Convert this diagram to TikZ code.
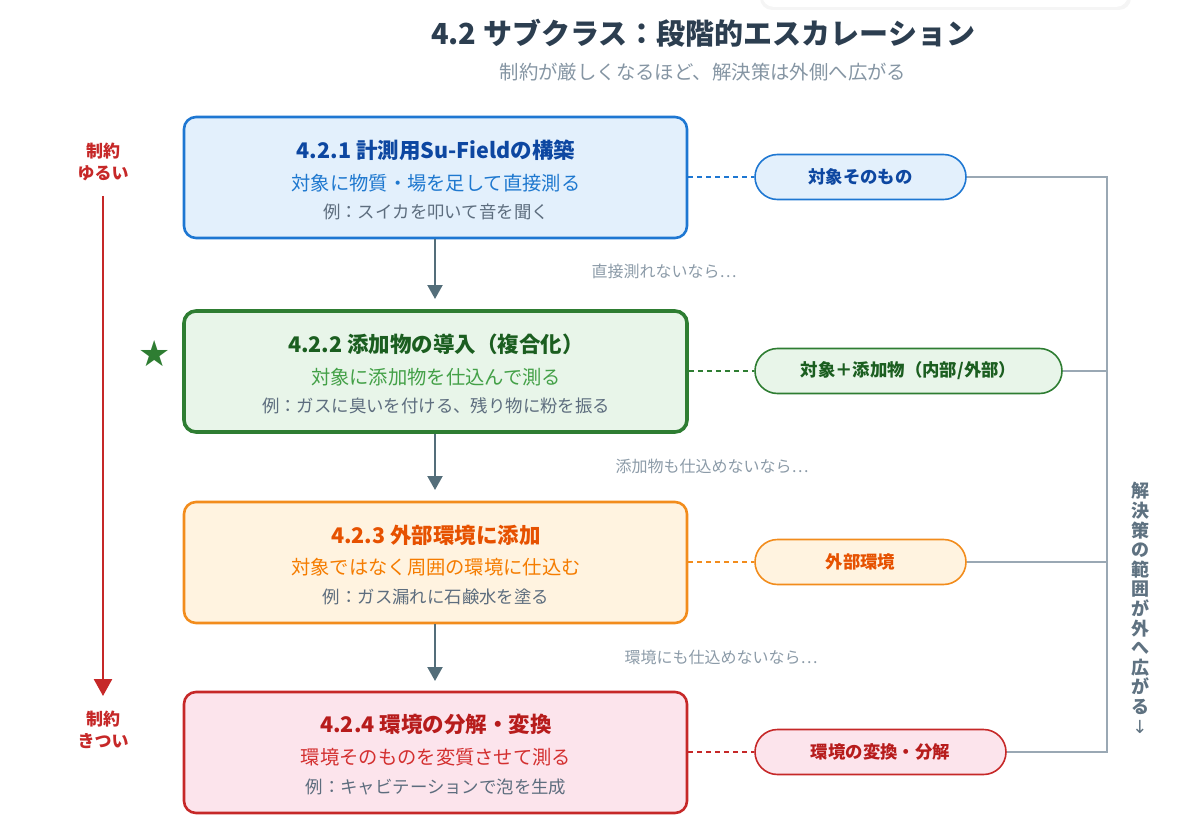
\documentclass[tikz,border=0pt]{standalone}
\usepackage{fontspec}
\setmainfont{Noto Sans CJK JP}
\newfontfamily\symfont{DejaVu Sans}
\usetikzlibrary{arrows.meta}
\definecolor{blueB}{HTML}{1E77D2}
\definecolor{blueF}{HTML}{E3F0FC}
\definecolor{blueT}{HTML}{0D47A1}
\definecolor{blueS}{HTML}{1E78CF}
\definecolor{greenB}{HTML}{2E7D32}
\definecolor{greenF}{HTML}{E8F5E9}
\definecolor{greenT}{HTML}{1B5E20}
\definecolor{greenS}{HTML}{43A047}
\definecolor{orangeB}{HTML}{F28C1C}
\definecolor{orangeF}{HTML}{FFF3E0}
\definecolor{orangeT}{HTML}{E65100}
\definecolor{orangeS}{HTML}{F57C00}
\definecolor{redB}{HTML}{C62828}
\definecolor{redF}{HTML}{FCE4EC}
\definecolor{redT}{HTML}{B71C1C}
\definecolor{redS}{HTML}{D32F2F}
\definecolor{titleC}{HTML}{2C3E50}
\definecolor{subC}{HTML}{8595A3}
\definecolor{exC}{HTML}{5D6D7E}
\definecolor{hintC}{HTML}{8C9BA8}
\definecolor{arrC}{HTML}{546E7A}
\definecolor{brC}{HTML}{9AA8B4}
\definecolor{vtC}{HTML}{5F7281}
\tikzset{
  stagebox/.style={draw, rounded corners=12pt, minimum width=503pt, minimum height=121pt, inner sep=0pt},
  pill/.style={draw, line width=1.6pt, rounded corners=22.5pt, minimum height=45pt, inner sep=0pt, font=\fontsize{17.4}{20}\selectfont\bfseries},
  ttl/.style={font=\fontsize{21.5}{24}\selectfont\bfseries},
  sub/.style={font=\fontsize{19.3}{22}\selectfont},
  ex/.style={font=\fontsize{17.4}{20}\selectfont, text=exC},
  hint/.style={font=\fontsize{16}{18}\selectfont, text=hintC, anchor=west},
  flow/.style={draw=arrC, line width=2.2pt, -{Triangle[width=15pt,length=14pt]}},
  link/.style={dashed, dash pattern=on 5pt off 4pt, line width=1.4pt},
  brk/.style={draw=brC, line width=1.8pt},
  side/.style={font=\fontsize{17}{22}\selectfont\bfseries, text=redB, align=center}
}
\begin{document}
\begin{tikzpicture}[x=1pt,y=-1pt]
\useasboundingbox (0,0) rectangle (1200,832);
% faint panel at the top right
\fill[black!4, rounded corners=12pt] (760,-30) rectangle (1131,10);
\fill[white, rounded corners=12pt] (762,-30) rectangle (1128,7);
% title
\node[font=\fontsize{29}{32}\selectfont\bfseries, text=titleC] (title) at (703,33) {4.2 サブクラス：段階的エスカレーション};
\node[font=\fontsize{19.4}{22}\selectfont, text=subC] (subtitle) at (703,72) {制約が厳しくなるほど、解決策は外側へ広がる};
% stage boxes
\node[stagebox, draw=blueB, fill=blueF, line width=2.6pt] (b1) at (435.5,177.5) {};
\node[stagebox, draw=greenB, fill=greenF, line width=3.6pt] (b2) at (435.5,371.5) {};
\node[stagebox, draw=orangeB, fill=orangeF, line width=2.6pt] (b3) at (435.5,562.5) {};
\node[stagebox, draw=redB, fill=redF, line width=2.6pt] (b4) at (435.5,752.5) {};
% box texts
\node[ttl, text=blueT] (t1) at (436,150) {4.2.1 計測用Su-Fieldの構築};
\node[sub, text=blueS] (s1) at (436,183) {対象に物質・場を足して直接測る};
\node[ex] (e1) at (436,212) {例：スイカを叩いて音を聞く};
\node[ttl, text=greenT] (t2) at (436,344) {4.2.2 添加物の導入（複合化）};
\node[sub, text=greenS] (s2) at (436,377) {対象に添加物を仕込んで測る};
\node[ex] (e2) at (436,406) {例：ガスに臭いを付ける、残り物に粉を振る};
\node[ttl, text=orangeT] (t3) at (436,535) {4.2.3 外部環境に添加};
\node[sub, text=orangeS] (s3) at (436,567) {対象ではなく周囲の環境に仕込む};
\node[ex] (e3) at (436,597) {例：ガス漏れに石鹸水を塗る};
\node[ttl, text=redT] (t4) at (436,724) {4.2.4 環境の分解・変換};
\node[sub, text=redS] (s4) at (436,757) {環境そのものを変質させて測る};
\node[ex] (e4) at (436,787) {例：キャビテーションで泡を生成};
% star
\node[font=\symfont\fontsize{36}{36}\selectfont, text=greenB] (star) at (155,354) {★};
% flow arrows
\coordinate (a1) at (435,299);
\coordinate (a2) at (435,490);
\coordinate (a3) at (435,681);
\draw[flow] (b1.south -| a1) -- (a1);
\draw[flow] (b2.south -| a2) -- (a2);
\draw[flow] (b3.south -| a3) -- (a3);
\node[hint] (h1) at (588,271) {直接測れないなら…};
\node[hint] (h2) at (612,466) {添加物も仕込めないなら…};
\node[hint] (h3) at (621,657) {環境にも仕込めないなら…};
% pills
\node[pill, draw=blueB, fill=blueF, text=blueT, minimum width=211pt] (p1) at (860.5,177) {対象そのもの};
\node[pill, draw=greenB, fill=greenF, text=greenT, minimum width=307pt] (p2) at (908.5,371) {対象＋添加物（内部/外部）};
\node[pill, draw=orangeB, fill=orangeF, text=orangeT, minimum width=211pt] (p3) at (860.5,562) {外部環境};
\node[pill, draw=redB, fill=redF, text=redT, minimum width=251pt] (p4) at (880.5,752) {環境の変換・分解};
% dashed links
\draw[link, draw=blueB] (b1.east |- p1) -- (p1.west);
\draw[link, draw=greenB] (b2.east |- p2) -- (p2.west);
\draw[link, draw=orangeB] (b3.east |- p3) -- (p3.west);
\draw[link, draw=redB] (b4.east |- p4) -- (p4.west);
% bracket
\coordinate (k1) at (1107,177);
\coordinate (k2) at (1107,371);
\coordinate (k3) at (1107,562);
\coordinate (k4) at (1107,752);
\draw[brk] (p1.east) -- (k1) -- (k4) -- (p4.east);
\draw[brk] (p2.east) -- (k2);
\draw[brk] (p3.east) -- (k3);
\node[font=\fontsize{18}{19.6}\selectfont\bfseries, text=vtC, align=center, anchor=north] (vt) at (1140,479)
  {解\\決\\策\\の\\範\\囲\\が\\外\\へ\\広\\が\\る\\{\symfont\fontseries{m}\selectfont ↓}};
% left constraint arrow
\node[side] (loose) at (103,162) {制約\\ゆるい};
\node[side] (tight) at (103,730) {制約\\きつい};
\coordinate (lt) at (103,196);
\coordinate (lb) at (103,696);
\draw[draw=redB, line width=2.6pt, -{Triangle[width=18pt,length=17pt]}] (lt) -- (lb);
\end{tikzpicture}
\end{document}
